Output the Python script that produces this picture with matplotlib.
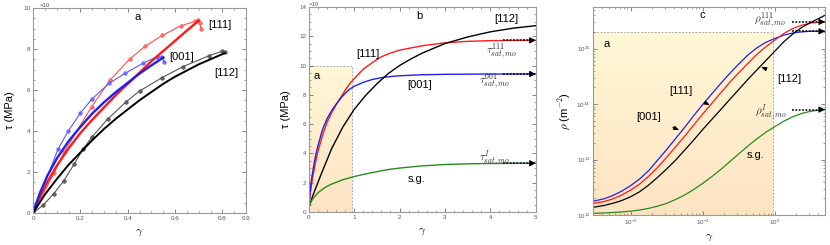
import numpy as np
import matplotlib
matplotlib.use("Agg")
import matplotlib.pyplot as plt
from matplotlib.ticker import MultipleLocator, FixedLocator, LogLocator, NullFormatter

plt.rcParams['font.family'] = ['Liberation Sans', 'DejaVu Sans']
plt.rcParams['mathtext.fontset'] = 'cm'

# ---------------- Panel a data (gamma, tau) ----------------
exp111_x = [0.0, 0.088, 0.132, 0.248, 0.326, 0.408, 0.474, 0.546, 0.624, 0.685, 0.698, 0.706, 0.709]
exp111_y = [0.0, 1.93, 2.98, 5.19, 6.49, 7.50, 8.14, 8.66, 9.13, 9.35, 9.41, 9.27, 8.97]
exp001_x = [0.0, 0.106, 0.149, 0.199, 0.248, 0.322, 0.390, 0.465, 0.525, 0.546, 0.553]
exp001_y = [0.0, 3.12, 4.00, 4.86, 5.55, 6.33, 6.82, 7.31, 7.63, 7.60, 7.39]
exp112_x = [0.0, 0.043, 0.088, 0.130, 0.173, 0.210, 0.248, 0.315, 0.394, 0.450, 0.546, 0.634, 0.745, 0.797, 0.811]
exp112_y = [0.0, 0.38, 0.95, 1.57, 2.37, 3.10, 3.69, 4.58, 5.43, 5.95, 6.61, 7.14, 7.68, 7.88, 7.83]

mod111_x = [0.0, 0.03, 0.06, 0.10, 0.15, 0.20, 0.25, 0.30, 0.35, 0.40, 0.45, 0.50, 0.55, 0.60, 0.65, 0.70]
mod111_y = [0.05, 0.80, 1.50, 2.30, 3.15, 3.90, 4.55, 5.15, 5.75, 6.30, 6.85, 7.40, 7.90, 8.40, 8.90, 9.38]
mod001_x = [0.0, 0.03, 0.06, 0.10, 0.15, 0.20, 0.25, 0.30, 0.35, 0.40, 0.45, 0.50, 0.55]
mod001_y = [0.05, 1.00, 1.80, 2.65, 3.50, 4.20, 4.85, 5.40, 5.90, 6.35, 6.80, 7.20, 7.58]
mod112_x = [0.0, 0.05, 0.10, 0.15, 0.20, 0.25, 0.30, 0.35, 0.40, 0.45, 0.50, 0.55, 0.60, 0.65, 0.70, 0.75, 0.81]
mod112_y = [0.0, 0.90, 1.65, 2.35, 2.95, 3.55, 4.10, 4.60, 5.05, 5.50, 5.90, 6.30, 6.65, 6.95, 7.25, 7.50, 7.80]

# ---------------- Panel b data (gamma, tau) ----------------
b111_x = [0, 0.05, 0.1, 0.15, 0.2, 0.3, 0.4, 0.5, 0.6, 0.7, 0.8, 0.9, 1.0, 1.2, 1.4, 1.6, 1.8, 2.0, 2.5, 3.0, 3.5, 4.0, 5.0]
b111_y = [0.4, 1.7, 2.6, 3.4, 4.1, 5.2, 6.1, 6.75, 7.3, 7.8, 8.3, 8.75, 9.1, 9.75, 10.2, 10.6, 10.85, 11.05, 11.35, 11.55, 11.65, 11.7, 11.72]
b001_x = [0, 0.05, 0.1, 0.15, 0.2, 0.3, 0.4, 0.5, 0.6, 0.7, 0.8, 0.9, 1.0, 1.2, 1.4, 1.6, 1.8, 2.0, 2.5, 3.0, 4.0, 5.0]
b001_y = [0.4, 2.0, 3.0, 3.85, 4.5, 5.6, 6.35, 6.9, 7.35, 7.75, 8.1, 8.38, 8.58, 8.85, 9.05, 9.17, 9.25, 9.3, 9.37, 9.4, 9.42, 9.42]
b112_x = [0, 0.1, 0.25, 0.5, 0.75, 1.0, 1.25, 1.5, 1.75, 2.0, 2.25, 2.5, 3.0, 3.5, 4.0, 4.5, 5.0]
b112_y = [0.3, 1.2, 2.4, 4.3, 5.8, 7.0, 7.95, 8.75, 9.45, 10.0, 10.45, 10.85, 11.5, 11.95, 12.3, 12.55, 12.72]
bsg_x = [0, 0.05, 0.1, 0.2, 0.3, 0.4, 0.5, 0.75, 1.0, 1.25, 1.5, 1.75, 2.0, 2.5, 3.0, 3.5, 4.0, 5.0]
bsg_y = [0.35, 0.7, 0.95, 1.3, 1.55, 1.75, 1.9, 2.2, 2.42, 2.6, 2.75, 2.9, 3.0, 3.15, 3.24, 3.29, 3.31, 3.33]
b_sat = [11.72, 9.42, 3.33]

# ---------------- Panel c data (log10 gamma, log10 rho) ----------------
c_lgx = [-2.52, -2.375, -2.25, -2.125, -2.0, -1.875, -1.75, -1.625, -1.5, -1.375, -1.25, -1.125, -1.0,
         -0.875, -0.75, -0.625, -0.5, -0.375, -0.25, -0.125, 0.0, 0.125, 0.25, 0.375, 0.5, 0.625, 0.7]
c001_lgy = [12.25, 12.29, 12.35, 12.43, 12.53, 12.65, 12.80, 12.99, 13.18, 13.38, 13.58, 13.79, 13.99,
            14.18, 14.37, 14.55, 14.72, 14.88, 15.01, 15.11, 15.18, 15.24, 15.28, 15.30, 15.31, 15.31, 15.31]
c111_lgy = [12.21, 12.24, 12.29, 12.36, 12.45, 12.56, 12.70, 12.86, 13.04, 13.23, 13.42, 13.62, 13.82,
            14.01, 14.20, 14.39, 14.56, 14.73, 14.89, 15.03, 15.15, 15.27, 15.36, 15.42, 15.46, 15.475, 15.48]
c112_lgy = [12.14, 12.17, 12.21, 12.26, 12.33, 12.42, 12.54, 12.68, 12.83, 12.99, 13.17, 13.35, 13.54,
            13.72, 13.90, 14.08, 14.26, 14.44, 14.61, 14.78, 14.95, 15.12, 15.26, 15.38, 15.47, 15.55, 15.60]
csg_lgy = [12.03, 12.037, 12.045, 12.055, 12.07, 12.09, 12.12, 12.16, 12.21, 12.28, 12.36, 12.46, 12.57,
           12.69, 12.82, 12.96, 13.10, 13.24, 13.37, 13.49, 13.59, 13.69, 13.77, 13.83, 13.87, 13.89, 13.90]
c_sat_lg = [15.48, 15.31, 13.90]

RED = '#ff1a1a'
BLUE = '#2020f0'
GREEN = '#2a8a1f'
FRAME = '#9a9a9a'
TOP_C = np.array([255, 247, 214]) / 255
BOT_C = np.array([253, 227, 194]) / 255

fig = plt.figure(figsize=(8.3, 2.45), dpi=100)


def style(ax):
    for s in ax.spines.values():
        s.set_color(FRAME)
        s.set_linewidth(0.8)
    ax.tick_params(which='both', direction='in', top=True, right=True,
                   colors='#555555', labelsize=4.5, pad=2)
    ax.tick_params(which='major', length=3, width=0.5)
    ax.tick_params(which='minor', length=1.6, width=0.4)


def gradient_box(ax, x0, x1, y0, y1, logy=False, n=80):
    if logy:
        edges = np.logspace(np.log10(y0), np.log10(y1), n + 1)
    else:
        edges = np.linspace(y0, y1, n + 1)
    for i in range(n):
        t = (i + 0.5) / n
        c = BOT_C * (1 - t) + TOP_C * t
        ax.fill_between([x0, x1], edges[i], edges[i + 1], color=c, lw=0, zorder=0)
    ax.plot([x0, x1, x1], [y1, y1, y0], ls=(0, (2, 1.5)), color='#aaaaaa', lw=0.7, zorder=0.5)


arrow_kw = dict(arrowstyle='-|>,head_length=0.35,head_width=0.18', color='black', lw=0.8)

# ===== Panel a =====
ax1 = fig.add_axes([0.0398, 0.1306, 0.2566, 0.8367])
style(ax1)
ax1.plot(exp111_x, exp111_y, '-o', color='#ff5050', lw=0.8, ms=2.5, mfc='#ff7070', mec='#ff5050', mew=0.5)
ax1.plot(exp001_x, exp001_y, '-o', color='#5a5aff', lw=0.8, ms=2.5, mfc='#7070ff', mec='#5a5aff', mew=0.5)
ax1.plot(exp112_x, exp112_y, '-o', color='#555555', lw=0.8, ms=2.5, mfc='#666666', mec='#444444', mew=0.5)
ax1.plot(mod111_x, mod111_y, '-', color=RED, lw=1.7)
ax1.plot(mod001_x, mod001_y, '-', color=BLUE, lw=1.7)
ax1.plot(mod112_x, mod112_y, '-', color='black', lw=1.4)
ax1.set_xlim(0, 0.9)
ax1.set_ylim(0, 10)
ax1.xaxis.set_major_locator(FixedLocator([0, 0.2, 0.4, 0.6, 0.8, 0.9]))
ax1.set_xticklabels(['0', '0.2', '0.4', '0.6', '0.8', '0.9'])
ax1.xaxis.set_minor_locator(MultipleLocator(0.05))
ax1.yaxis.set_major_locator(MultipleLocator(2))
ax1.yaxis.set_minor_locator(MultipleLocator(0.5))
ax1.text(0.03, 1.0, '×10', transform=ax1.transAxes, fontsize=4.3, color='#555555', va='bottom')
ax1.text(0.44, 9.55, 'a', fontsize=8, ha='center', va='center')
ax1.text(0.79, 9.18, '[111]', fontsize=8, ha='center', va='center')
ax1.text(0.63, 7.63, '[001]', fontsize=8, ha='center', va='center')
ax1.text(0.817, 6.85, '[112]', fontsize=8, ha='center', va='center')
ax1.set_xlabel(r'$\gamma$', fontsize=8.5, labelpad=4)
ax1.set_ylabel('τ (MPa)', fontsize=8, labelpad=6)

# ===== Panel b =====
ax2 = fig.add_axes([0.372, 0.1347, 0.2735, 0.837])
style(ax2)
gradient_box(ax2, 0, 0.95, 0, 10)
ax2.plot(b111_x, b111_y, color=RED, lw=1.0)
ax2.plot(b001_x, b001_y, color=BLUE, lw=1.0)
ax2.plot(b112_x, b112_y, color='black', lw=1.0)
ax2.plot(bsg_x, bsg_y, color=GREEN, lw=1.0)
for yv in b_sat:
    ax2.plot([4.28, 4.93], [yv, yv], ls=(0, (1.2, 1.0)), color='black', lw=1.1, clip_on=False)
    ax2.annotate('', xy=(5.0, yv), xytext=(4.88, yv), arrowprops=arrow_kw, annotation_clip=False)
ax2.set_xlim(0, 5)
ax2.set_ylim(0, 14)
ax2.xaxis.set_major_locator(MultipleLocator(1))
ax2.xaxis.set_minor_locator(MultipleLocator(0.2))
ax2.yaxis.set_major_locator(MultipleLocator(2))
ax2.yaxis.set_minor_locator(MultipleLocator(0.5))
ax2.text(0.0, 1.0, '×10', transform=ax2.transAxes, fontsize=4.3, color='#555555', va='bottom')
ax2.text(2.43, 13.4, 'b', fontsize=8, ha='center', va='center')
ax2.text(4.35, 13.15, '[112]', fontsize=8, ha='center', va='center')
ax2.text(1.3, 10.8, '[111]', fontsize=8, ha='center', va='center')
ax2.text(2.44, 8.65, '[001]', fontsize=8, ha='center', va='center')
ax2.text(2.37, 2.22, 's.g.', fontsize=8, ha='center', va='center')
ax2.text(0.18, 9.27, 'a', fontsize=8, ha='center', va='center')
ax2.text(4.25, 11.0, r'$\tau^{111}_{sat,mo}$', fontsize=8, ha='center', va='center', color='#333333')
ax2.text(4.1, 8.95, r'$\tau^{001}_{sat,mo}$', fontsize=8, ha='center', va='center', color='#333333')
ax2.text(4.1, 3.75, r'$\tau^{I}_{sat,mo}$', fontsize=8, ha='center', va='center', color='#333333')
ax2.set_xlabel(r'$\gamma$', fontsize=8.5, labelpad=4)
ax2.set_ylabel('τ (MPa)', fontsize=8, labelpad=6)

# ===== Panel c =====
ax3 = fig.add_axes([0.7145, 0.1224, 0.2795, 0.849])
style(ax3)
ax3.set_xscale('log')
ax3.set_yscale('log')
gradient_box(ax3, 0.003, 0.95, 1e12, 2e15, logy=True)
gx = 10 ** np.array(c_lgx)
ax3.plot(gx, 10 ** np.array(c001_lgy), color=BLUE, lw=0.9)
ax3.plot(gx, 10 ** np.array(c111_lgy), color=RED, lw=0.9)
ax3.plot(gx, 10 ** np.array(c112_lgy), color='black', lw=0.9)
ax3.plot(gx, 10 ** np.array(csg_lgy), color=GREEN, lw=0.9)
for lv in c_sat_lg:
    yv = 10 ** lv
    ax3.plot([1.75, 4.5], [yv, yv], ls=(0, (1.2, 1.0)), color='black', lw=1.1, clip_on=False)
    ax3.annotate('', xy=(5.0, yv), xytext=(4.3, yv), arrowprops=arrow_kw, annotation_clip=False)
ax3.set_xlim(0.003, 5)
ax3.set_ylim(1e12, 5.6e15)
ax3.xaxis.set_major_locator(LogLocator(base=10, numticks=10))
ax3.xaxis.set_minor_locator(LogLocator(base=10, subs=np.arange(2, 10), numticks=20))
ax3.xaxis.set_minor_formatter(NullFormatter())
ax3.yaxis.set_major_locator(LogLocator(base=10, numticks=10))
ax3.yaxis.set_minor_locator(LogLocator(base=10, subs=np.arange(2, 10), numticks=20))
ax3.yaxis.set_minor_formatter(NullFormatter())
ax3.text(10 ** -1.0, 10 ** 15.6, 'c', fontsize=8, ha='center', va='center')
ax3.text(10 ** -2.33, 10 ** 15.09, 'a', fontsize=8, ha='center', va='center')
ax3.text(10 ** -0.27, 10 ** 13.08, 's.g.', fontsize=8, ha='center', va='center')
lab_arrow = dict(arrowstyle='-|>,head_length=0.4,head_width=0.15', color='black', lw=0.7, shrinkA=7, shrinkB=0)
ax3.annotate('[111]', xy=(10 ** -0.9, 10 ** 13.98), xytext=(10 ** -1.3, 10 ** 14.24),
             fontsize=8, ha='center', va='center', arrowprops=lab_arrow)
ax3.annotate('[001]', xy=(10 ** -1.325, 10 ** 13.53), xytext=(10 ** -1.75, 10 ** 13.77),
             fontsize=8, ha='center', va='center', arrowprops=lab_arrow)
ax3.annotate('[112]', xy=(10 ** -0.19, 10 ** 14.67), xytext=(10 ** 0.2, 10 ** 14.45),
             fontsize=8, ha='center', va='center', arrowprops=lab_arrow)
ax3.text(10 ** -0.07, 10 ** 15.52, r'$\rho^{111}_{sat,mo}$', fontsize=8, ha='center', va='center', color='#333333')
ax3.text(10 ** -0.05, 10 ** 13.86, r'$\rho^{I}_{sat,mo}$', fontsize=8, ha='center', va='center', color='#333333')
ax3.set_xlabel(r'$\gamma$', fontsize=8.5, labelpad=3)
ax3.set_ylabel(r'$\rho$ (m$^{-2}$)', fontsize=8, labelpad=3)

fig.savefig('out.png', dpi=100)
